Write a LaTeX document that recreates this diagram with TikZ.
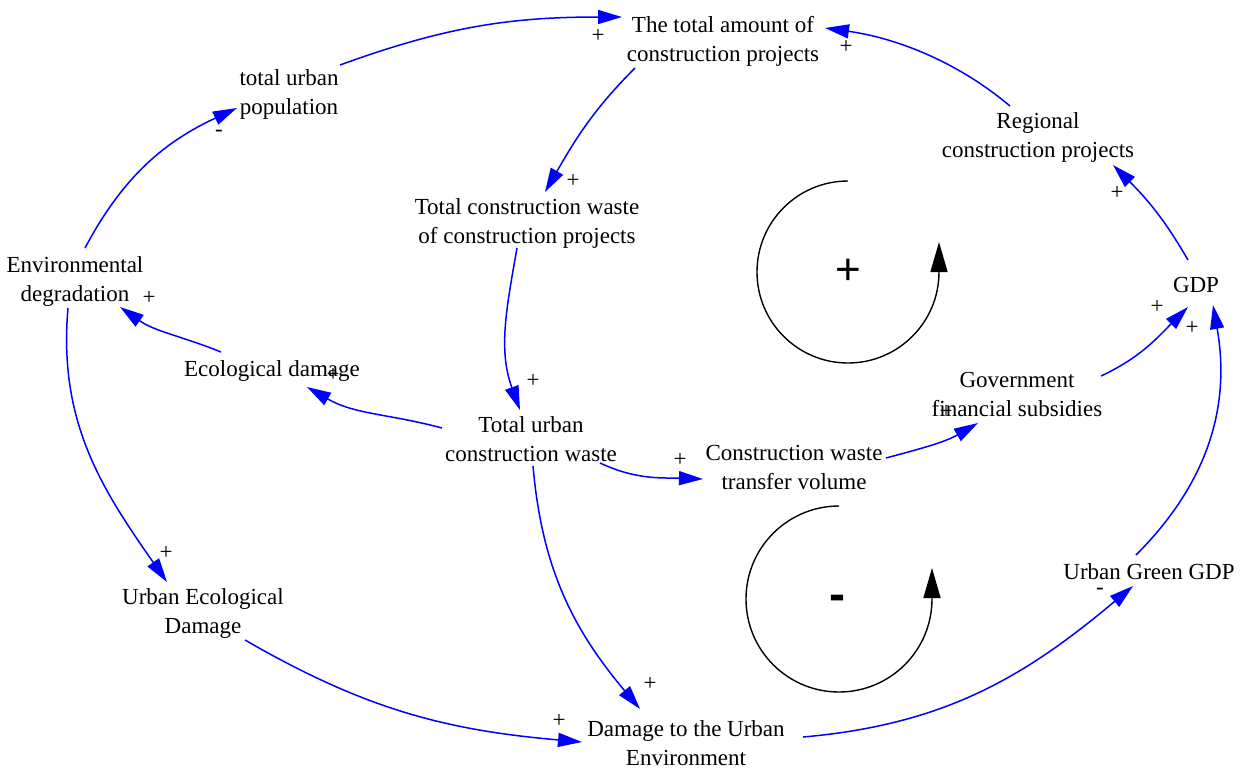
\documentclass[tikz,border=0pt]{standalone}
\usepackage{fontspec}
\setmainfont{Liberation Serif}
\newfontfamily\loopfont{Liberation Sans}
\usetikzlibrary{arrows.meta}

\begin{document}
\begin{tikzpicture}[x=0.5pt,y=0.5pt,every node/.style={var},
				var/.style={align=center,inner sep=0pt,font=\fontsize{11.5}{14.5}\selectfont},
				link/.style={draw=blue,line width=0.75pt,-{Triangle[length=12pt,width=7pt]}},
				loopline/.style={draw=black,line width=0.7pt,-{Triangle[length=15pt,width=8.5pt]}},
				loopsign/.style={font=\loopfont\fontsize{22}{22}\selectfont}]
				\useasboundingbox (0,0) rectangle (1244,-767);
				\node (AMOUNT)   at (723,-41)  {The total amount of\\construction projects};
				\node (POP)      at (289,-94)  {total urban\\population};
				\node (REGION)   at (1038,-137) {Regional\\construction projects};
				\node (WPROJ)    at (527,-223) {Total construction waste\\of construction projects};
				\node (ENVDEG)   at (75,-281)  {Environmental\\degradation};
				\node (GDP)      at (1196,-285) {GDP};
				\node (ECODAM)   at (272,-371) {Ecological damage};
				\node (SUBSIDY)  at (1017,-394) {Government\\financial subsidies};
				\node (WASTE)    at (531,-439) {Total urban\\construction waste};
				\node (TRANSFER) at (794,-467) {Construction waste\\transfer volume};
				\node (GREEN)    at (1149,-572) {Urban Green GDP};
				\node (URBECO)   at (203,-613) {Urban Ecological\\Damage};
				\node (DAMAGE)   at (686,-743) {Damage to the Urban\\Environment};
				
				% links
				\draw[link] ([shift={(51,29)}]POP.center) to[out=20,in=180] ([shift={(-101,24)}]AMOUNT.center);
				\draw[link] ([shift={(-28,31)}]REGION.center) to[out=140,in=-8,looseness=0.9] ([shift={(102,13)}]AMOUNT.center);
				\draw[link] ([shift={(-88,-27)}]AMOUNT.center) to[out=-135,in=60] ([shift={(18,31)}]WPROJ.center);
				\draw[link] ([shift={(-10,-25)}]WPROJ.center) to[out=-100,in=110] ([shift={(-11,29)}]WASTE.center);
				\draw[link] ([shift={(-89,11)}]WASTE.center) to[out=165,in=-30] ([shift={(35,-16)}]ECODAM.center);
				\draw[link] ([shift={(-51,19)}]ECODAM.center) to[out=158,in=-35] ([shift={(45,-26)}]ENVDEG.center);
				\draw[link] ([shift={(10,33)}]ENVDEG.center) to[out=62,in=-155] ([shift={(-52,-14)}]POP.center);
				\draw[link] ([shift={(-7,-27)}]ENVDEG.center) to[out=-95,in=125] ([shift={(-36,31)}]URBECO.center);
				\draw[link] ([shift={(42,-27)}]URBECO.center) to[out=-30,in=175] ([shift={(-104,1)}]DAMAGE.center);
				\draw[link] ([shift={(2,-27)}]WASTE.center) to[out=-85,in=130] ([shift={(-46,34)}]DAMAGE.center);
				\draw[link] ([shift={(69,-24)}]WASTE.center) to[out=-25,in=178] ([shift={(-91,-12)}]TRANSFER.center);
				\draw[link] ([shift={(92,9)}]TRANSFER.center) to[out=15,in=-150] ([shift={(-39,-29)}]SUBSIDY.center);
				\draw[link] ([shift={(84,18)}]SUBSIDY.center) to[out=25,in=-135] ([shift={(-8,-22)}]GDP.center);
				\draw[link] ([shift={(117,6)}]DAMAGE.center) to[out=5,in=-140] ([shift={(-16,-14)}]GREEN.center);
				\draw[link] ([shift={(-13,17)}]GREEN.center) to[out=45,in=-80] ([shift={(17,-20)}]GDP.center);
				\draw[link] ([shift={(-8,25)}]GDP.center) to[out=120,in=-45] ([shift={(75,-28)}]REGION.center);
				
				% polarities
				\node (S1)  at (598,-36)  {+};
				\node (S2)  at (846,-47)  {+};
				\node (S3)  at (573,-181) {+};
				\node (S4)  at (533,-381) {+};
				\node (S5)  at (333,-375) {+};
				\node (S6)  at (149,-298) {+};
				\node (S7)  at (219,-133) {-};
				\node (S8)  at (166,-553) {+};
				\node (S9)  at (559,-721) {+};
				\node (S10) at (650,-684) {+};
				\node (S11) at (680,-460) {+};
				\node (S12) at (946,-412) {+};
				\node (S13) at (1157,-307) {+};
				\node (S14) at (1100,-591) {-};
				\node (S15) at (1192,-328) {+};
				\node (S16) at (1117,-193) {+};
				
				% loops
				\draw[loopline] (848,-181) arc[start angle=90,end angle=360,radius=91] -- ++(0,30);
				\node[loopsign] (RPLUS) at (848,-272) {+};
				\draw[loopline] (839,-506) arc[start angle=90,end angle=360,radius=93] -- ++(0,31);
				\node[loopsign,font=\loopfont\bfseries\fontsize{24}{24}\selectfont] (RMINUS) at (837,-603) {-};
			\end{tikzpicture}
\end{document}
